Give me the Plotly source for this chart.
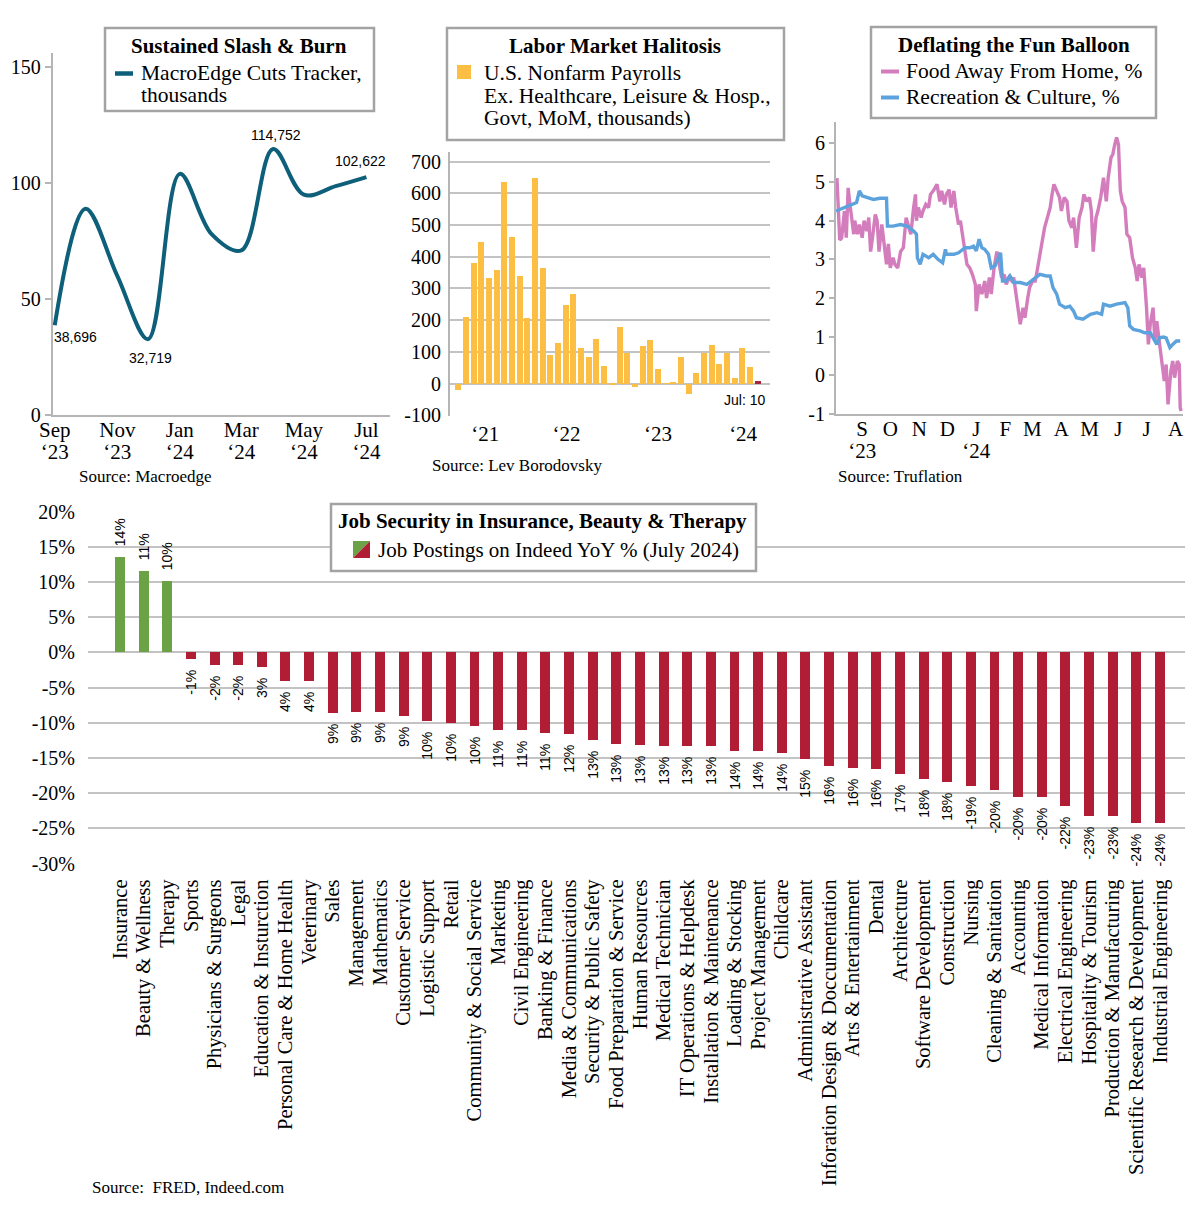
import plotly.graph_objects as go

# the page body adds an 8px margin, so the figure is sized to the visible area
OFF = 8
W, H = 1200 - OFF, 1225 - OFF
SERIF = "Liberation Serif"
SANS = "Liberation Sans"

# ------------------------------------------------------------------ data
# Panel 1: MacroEdge cuts tracker (thousands)
cuts_months = ["2023-09-01", "2023-10-01", "2023-11-01", "2023-12-01", "2024-01-01",
               "2024-02-01", "2024-03-01", "2024-04-01", "2024-05-01", "2024-06-01",
               "2024-07-01"]
cuts_values = [38.696, 89, 60, 32.719, 104, 78, 71, 114.752, 95, 98.7, 102.622]
cuts_labelled = [0, 3, 7, 10]
cuts_tick_months = ["2023-09-01", "2023-11-01", "2024-01-01", "2024-03-01", "2024-05-01", "2024-07-01"]
cuts_tick_month_text = ["Sep", "Nov", "Jan", "Mar", "May", "Jul"]
cuts_tick_year_text = ["‘23", "‘23", "‘24", "‘24", "‘24", "‘24"]
cuts_yticks = [0, 50, 100, 150]

# Panel 2: payrolls ex healthcare, leisure & hosp., govt (MoM, thousands)
payroll_values = [-20, 210, 381, 448, 333, 358, 638, 463, 341, 207, 650, 366,
                  92, 129, 250, 284, 112, 86, 141, 58, -3, 181, 96, -10,
                  121, 137, 47, 2, 5, 86, -33, 34, 99, 122, 64, 96, 18, 112, 55, 10]
payroll_tick_pos = [3.5, 14.1, 26.0, 37.1]
payroll_tick_text = ["‘21", "‘22", "‘23", "‘24"]
payroll_yticks = [-100, 0, 100, 200, 300, 400, 500, 600, 700]

# Panel 3: Truflation
food_dates = ["2023-08-05", "2023-08-08", "2023-08-10", "2023-08-13", "2023-08-15", "2023-08-17",
              "2023-08-19", "2023-08-21", "2023-08-23", "2023-08-24", "2023-08-27", "2023-08-29",
              "2023-09-01", "2023-09-03", "2023-09-06", "2023-09-08", "2023-09-10", "2023-09-12",
              "2023-09-15", "2023-09-17", "2023-09-19", "2023-09-22", "2023-09-24", "2023-09-27",
              "2023-09-29", "2023-10-01", "2023-10-04", "2023-10-06", "2023-10-09", "2023-10-12",
              "2023-10-15", "2023-10-18", "2023-10-20", "2023-10-23", "2023-10-26", "2023-10-28",
              "2023-10-29", "2023-10-31", "2023-11-03", "2023-11-05", "2023-11-08", "2023-11-11",
              "2023-11-13", "2023-11-16", "2023-11-20", "2023-11-23", "2023-11-25", "2023-11-28",
              "2023-11-30", "2023-12-03", "2023-12-05", "2023-12-08", "2023-12-10", "2023-12-13",
              "2023-12-15", "2023-12-18", "2023-12-20", "2023-12-22", "2023-12-25", "2023-12-28",
              "2023-12-31", "2024-01-01", "2024-01-04", "2024-01-07", "2024-01-10", "2024-01-12",
              "2024-01-15", "2024-01-17", "2024-01-20", "2024-01-23", "2024-01-25", "2024-01-28",
              "2024-01-31", "2024-02-02", "2024-02-05", "2024-02-08", "2024-02-10", "2024-02-13",
              "2024-02-16", "2024-02-17", "2024-02-20", "2024-02-22", "2024-02-25", "2024-02-27",
              "2024-03-01", "2024-03-04", "2024-03-06", "2024-03-09", "2024-03-12", "2024-03-14",
              "2024-03-17", "2024-03-20", "2024-03-22", "2024-03-24", "2024-03-27", "2024-03-30",
              "2024-04-01", "2024-04-04", "2024-04-07", "2024-04-09", "2024-04-12", "2024-04-14",
              "2024-04-17", "2024-04-20", "2024-04-23", "2024-04-25", "2024-04-28", "2024-05-01",
              "2024-05-03", "2024-05-05", "2024-05-08", "2024-05-10", "2024-05-13", "2024-05-16",
              "2024-05-19", "2024-05-21", "2024-05-24", "2024-05-26", "2024-05-28", "2024-05-30",
              "2024-06-01", "2024-06-03", "2024-06-05", "2024-06-08", "2024-06-10", "2024-06-13",
              "2024-06-16", "2024-06-19", "2024-06-21", "2024-06-23", "2024-06-26", "2024-06-28",
              "2024-07-01", "2024-07-03", "2024-07-05", "2024-07-08", "2024-07-10", "2024-07-12",
              "2024-07-15", "2024-07-17", "2024-07-20", "2024-07-22", "2024-07-24", "2024-07-27",
              "2024-07-29", "2024-07-31", "2024-08-03", "2024-08-05", "2024-08-06", "2024-08-07"]
food_values = [5.1, 3.5, 3.55, 4.25, 3.56, 4.85, 4.4, 4.0, 3.65, 4.0, 3.65, 3.9,
               3.56, 4.0, 3.73, 4.08, 3.2, 3.56, 4.16, 4.0, 3.2, 3.9, 3.4, 2.87,
               3.4, 2.78, 3.04, 2.87, 2.78, 3.2, 3.3, 4.08, 3.9, 3.65, 4.34, 4.68,
               4.0, 4.34, 4.08, 4.25, 4.42, 4.34, 4.68, 4.77, 4.94, 4.5, 4.77, 4.42,
               4.68, 4.8, 4.34, 4.77, 4.34, 3.9, 4.0, 3.47, 3.13, 2.87, 2.78, 2.6,
               2.35, 1.66, 2.35, 2.1, 2.44, 2.0, 2.53, 2.1, 2.78, 3.2, 2.96, 2.53,
               2.6, 2.35, 2.53, 2.44, 2.53, 2.0, 1.49, 1.32, 1.75, 1.49, 2.0, 2.27,
               2.44, 2.44, 2.7, 3.13, 3.56, 3.82, 4.08, 4.34, 4.68, 4.94, 4.77, 4.6,
               4.25, 4.6, 4.5, 4.0, 3.82, 4.08, 3.3, 4.08, 4.34, 4.68, 4.5, 4.6,
               4.25, 3.2, 4.08, 4.25, 4.6, 5.11, 4.5, 5.11, 5.63, 5.72, 5.97, 6.15,
               5.97, 4.77, 4.5, 4.34, 3.65, 3.56, 3.04, 2.78, 2.44, 2.87, 2.53, 2.78,
               1.75, 0.8, 1.32, 1.75, 0.89, 1.4, 0.8, 0.46, -0.15, 0.28, -0.75, 0.11,
               0.37, -0.06, 0.37, 0.28, -0.84, -0.92]
rec_dates = ["2023-08-04", "2023-08-08", "2023-08-16", "2023-08-26", "2023-08-29", "2023-09-01",
             "2023-09-06", "2023-09-13", "2023-09-20", "2023-09-27", "2023-09-28", "2023-10-04",
             "2023-10-12", "2023-10-19", "2023-10-26", "2023-10-29", "2023-10-30", "2023-11-02",
             "2023-11-05", "2023-11-11", "2023-11-16", "2023-11-21", "2023-11-26", "2023-11-29",
             "2023-11-30", "2023-12-08", "2023-12-13", "2023-12-16", "2023-12-20", "2023-12-25",
             "2023-12-29", "2024-01-01", "2024-01-04", "2024-01-07", "2024-01-10", "2024-01-14",
             "2024-01-17", "2024-01-21", "2024-01-25", "2024-01-27", "2024-01-29", "2024-02-02",
             "2024-02-06", "2024-02-10", "2024-02-17", "2024-02-24", "2024-03-02", "2024-03-09",
             "2024-03-16", "2024-03-20", "2024-03-23", "2024-03-27", "2024-03-30", "2024-04-05",
             "2024-04-10", "2024-04-14", "2024-04-17", "2024-04-24", "2024-05-02", "2024-05-09",
             "2024-05-14", "2024-05-16", "2024-05-23", "2024-05-30", "2024-06-08", "2024-06-11",
             "2024-06-13", "2024-06-17", "2024-06-24", "2024-06-29", "2024-07-05", "2024-07-08",
             "2024-07-12", "2024-07-15", "2024-07-19", "2024-07-22", "2024-07-26", "2024-07-29",
             "2024-08-02", "2024-08-06"]
rec_values = [4.25, 4.29, 4.38, 4.47, 4.77, 4.64, 4.6, 4.55, 4.58, 4.58, 3.86, 3.86,
              3.9, 3.86, 3.73, 3.65, 3.04, 2.87, 3.13, 3.04, 3.13, 3.0, 2.91, 3.26,
              3.13, 3.13, 3.17, 3.22, 3.3, 3.3, 3.34, 3.22, 3.52, 3.3, 3.26, 3.13,
              2.78, 2.83, 3.09, 3.17, 2.44, 2.44, 2.57, 2.4, 2.4, 2.35, 2.48, 2.61,
              2.57, 2.57, 2.27, 2.1, 1.84, 1.75, 1.79, 1.66, 1.49, 1.45, 1.58, 1.62,
              1.58, 1.84, 1.79, 1.84, 1.88, 1.75, 1.28, 1.19, 1.15, 1.1, 1.1, 0.97,
              0.8, 0.97, 0.99, 0.97, 0.72, 0.8, 0.89, 0.89]
truf_tick_months = ["2023-09-01", "2023-10-01", "2023-11-01", "2023-12-01", "2024-01-01", "2024-02-01",
                    "2024-03-01", "2024-04-01", "2024-05-01", "2024-06-01", "2024-07-01", "2024-08-01"]
truf_tick_month_text = ["S", "O", "N", "D", "J", "F", "M", "A", "M", "J", "J", "A"]
truf_year_months = ["2023-09-01", "2024-01-01"]
truf_year_text = ["‘23", "‘24"]
truf_yticks = [-1, 0, 1, 2, 3, 4, 5, 6]

# Panel 4: Indeed job postings YoY %
job_categories = ["Insurance", "Beauty & Wellness", "Therapy", "Sports", "Physicians & Surgeons",
                  "Legal", "Education & Insturction", "Personal Care & Home Health", "Veterinary",
                  "Sales", "Management", "Mathematics", "Customer Service", "Logistic Support",
                  "Retail", "Community & Social Service", "Marketing", "Civil Engineering",
                  "Banking & Finance", "Media & Communications", "Security & Public Safety",
                  "Food Preparation & Service", "Human Resources", "Medical Technician",
                  "IT Operations & Helpdesk", "Installation & Maintenance", "Loading & Stocking",
                  "Project Management", "Childcare", "Administrative Assistant",
                  "Inforation Design & Doccumentation", "Arts & Entertainment", "Dental",
                  "Architecture", "Software Development", "Construction", "Nursing",
                  "Cleaning & Sanitation", "Accounting", "Medical Information",
                  "Electrical Engineering", "Hospitality & Tourism", "Production & Manufacturing",
                  "Scientific Research & Development", "Industrial Engineering"]
job_values = [13.6, 11.6, 10.1, -0.9, -1.8, -1.8, -2.0, -4.0, -4.0, -8.6, -8.5, -8.5, -9.0,
              -9.7, -10.0, -10.5, -11.0, -11.0, -11.4, -11.6, -12.5, -13.0, -13.2, -13.3,
              -13.3, -13.3, -14.0, -14.0, -14.3, -15.2, -16.2, -16.4, -16.5, -17.2, -18.0,
              -18.4, -19.0, -19.6, -20.5, -20.5, -21.8, -23.3, -23.3, -24.3, -24.3]
job_labels = ["14%", "11%", "10%", "-1%", "-2%", "-2%", "3%", "4%", "4%", "9%", "9%", "9%", "9%",
              "10%", "10%", "10%", "11%", "11%", "11%", "12%", "13%", "13%", "13%", "13%",
              "13%", "13%", "14%", "14%", "14%", "15%", "16%", "16%", "16%", "17%", "18%",
              "18%", "-19%", "-20%", "-20%", "-20%", "-22%", "-23%", "-23%", "-24%", "-24%"]
job_yticks = [-30, -25, -20, -15, -10, -5, 0, 5, 10, 15, 20]

# ------------------------------------------------------------------ style
TEAL = "#0E5F79"
YELLOW = "#FDBE44"
DARKRED = "#A3283E"
PINK = "#D47DBD"
BLUE = "#5CA3DD"
GREEN = "#6BA245"
RED = "#B01D34"
GRID = "#C3C3C3"
AXIS = "#B5B5B5"
BOX = "#A3A3A3"
CLEAR = "rgba(0,0,0,0)"


def X(px):
    return (px - OFF) / W


def Y(py):
    return 1 - (py - OFF) / H


fig = go.Figure()

# panel 1
fig.add_trace(go.Scatter(x=cuts_months, y=cuts_values, mode="lines",
                         line=dict(color=TEAL, width=4, shape="spline", smoothing=1.0),
                         xaxis="x", yaxis="y", showlegend=False, hoverinfo="skip"))
# invisible companion so the year-row axis is built
fig.add_trace(go.Scatter(x=cuts_months, y=cuts_values, mode="lines", opacity=0,
                         line=dict(width=0), xaxis="x5", yaxis="y", showlegend=False, hoverinfo="skip"))
# panel 2
fig.add_trace(go.Bar(x=list(range(len(payroll_values))), y=payroll_values,
                     marker=dict(color=[YELLOW] * (len(payroll_values) - 1) + [DARKRED], line=dict(width=0)),
                     width=0.78, xaxis="x2", yaxis="y2", showlegend=False, hoverinfo="skip"))
# panel 3
fig.add_trace(go.Scatter(x=food_dates, y=food_values, mode="lines", line=dict(color=PINK, width=3.4),
                         xaxis="x3", yaxis="y3", showlegend=False, hoverinfo="skip"))
fig.add_trace(go.Scatter(x=rec_dates, y=rec_values, mode="lines", line=dict(color=BLUE, width=3.4),
                         xaxis="x3", yaxis="y3", showlegend=False, hoverinfo="skip"))
fig.add_trace(go.Scatter(x=rec_dates, y=rec_values, mode="lines", opacity=0, line=dict(width=0),
                         xaxis="x6", yaxis="y3", showlegend=False, hoverinfo="skip"))
# panel 4
NB = "\u00a0"
job_text = [(NB * 2 + t) if v > 0 else (t + NB * 2) for t, v in zip(job_labels, job_values)]
fig.add_trace(go.Bar(x=job_categories, y=job_values,
                     marker=dict(color=[GREEN if v > 0 else RED for v in job_values], line=dict(width=0)),
                     width=0.42, text=job_text, textposition="outside", textangle=-90,
                     textfont=dict(family=SANS, size=14, color="black"), constraintext="none",
                     cliponaxis=False, xaxis="x4", yaxis="y4", showlegend=False, hoverinfo="skip"))

serif20 = dict(family=SERIF, size=20, color="black")
serif21 = dict(family=SERIF, size=21, color="black")

cuts_range = ["2023-08-30", "2024-07-24"]
truf_range = ["2023-08-04", "2024-08-09"]
MONTH_STANDOFF = -5
YEAR_STANDOFF = 22

fig.update_layout(
    width=W, height=H, autosize=False,
    margin=dict(l=0, r=0, t=0, b=0, autoexpand=False),
    paper_bgcolor="white", plot_bgcolor="white",
    hovermode=False, showlegend=False, bargap=0,
    xaxis=dict(domain=[X(52.7), X(390)], anchor="y", type="date", automargin=False,
               range=cuts_range,
               tickmode="array", tickvals=cuts_tick_months, ticktext=cuts_tick_month_text,
               showline=True, linecolor=AXIS, linewidth=2, showgrid=False, zeroline=False,
               ticks="", ticklabelstandoff=MONTH_STANDOFF, tickfont=serif21),
    xaxis5=dict(overlaying="x", anchor="y", side="bottom", type="date", automargin=False,
                range=cuts_range,
                tickmode="array", tickvals=cuts_tick_months, ticktext=cuts_tick_year_text,
                showline=False, showgrid=False, zeroline=False,
                ticks="", ticklabelstandoff=YEAR_STANDOFF, tickfont=serif21),
    yaxis=dict(domain=[Y(415), Y(53.3)], anchor="x", range=[0, 156], automargin=False,
               tickmode="array", tickvals=cuts_yticks, ticktext=[str(v) for v in cuts_yticks],
               showline=True, linecolor=AXIS, linewidth=2, showgrid=False, zeroline=False,
               ticks="outside", ticklen=6, tickwidth=2, tickcolor=AXIS, tickfont=serif20),
    xaxis2=dict(domain=[X(450), X(770)], anchor="y2", range=[-1.08, 40.6], automargin=False,
                tickmode="array", tickvals=payroll_tick_pos, ticktext=payroll_tick_text,
                showline=False, showgrid=False, zeroline=False,
                ticks="", ticklabelstandoff=3, tickfont=serif21),
    yaxis2=dict(domain=[Y(415.7), Y(151.7)], anchor="x2", range=[-101, 731], automargin=False,
                tickmode="array", tickvals=payroll_yticks, ticktext=[str(v) for v in payroll_yticks],
                showline=True, linecolor=AXIS, linewidth=2, showgrid=True, gridcolor=GRID,
                gridwidth=2, zeroline=False, ticks="outside", ticklen=3,
                tickcolor=CLEAR, tickfont=serif20),
    xaxis3=dict(domain=[X(836), X(1183)], anchor="y3", type="date", automargin=False,
                range=truf_range,
                tickmode="array", tickvals=truf_tick_months, ticktext=truf_tick_month_text,
                showline=True, linecolor=AXIS, linewidth=2, showgrid=False, zeroline=False,
                ticks="", ticklabelstandoff=MONTH_STANDOFF, tickfont=serif21),
    xaxis6=dict(overlaying="x3", anchor="y3", side="bottom", type="date", automargin=False,
                range=truf_range,
                tickmode="array", tickvals=truf_year_months, ticktext=truf_year_text,
                showline=False, showgrid=False, zeroline=False,
                ticks="", ticklabelstandoff=YEAR_STANDOFF, tickfont=serif21),
    yaxis3=dict(domain=[Y(414), Y(121.7)], anchor="x3", range=[-1, 6.56], automargin=False,
                tickmode="array", tickvals=truf_yticks, ticktext=[str(v) for v in truf_yticks],
                showline=True, linecolor=AXIS, linewidth=2, showgrid=False, zeroline=False,
                ticks="outside", ticklen=5, tickwidth=2, tickcolor=AXIS, tickfont=serif20),
    xaxis4=dict(domain=[X(88), X(1185)], anchor="y4", type="category", range=[-1.354, 45.06],
                automargin=False,
                tickmode="array", tickvals=job_categories, ticktext=job_categories,
                tickangle=-90, showline=False, showgrid=False, zeroline=False,
                ticks="outside", ticklen=6, tickcolor=CLEAR,
                tickfont=dict(family=SERIF, size=20.5, color="black")),
    yaxis4=dict(domain=[Y(864.3), Y(511)], anchor="x4", range=[-30.1, 20.1], automargin=False,
                tickmode="array", tickvals=job_yticks, ticktext=[f"{v}%" for v in job_yticks],
                showline=False, showgrid=True, gridcolor=GRID, gridwidth=2,
                zeroline=False, ticks="outside", ticklen=8, tickcolor=CLEAR,
                tickfont=serif20),
)

shapes = []
annotations = []


def box(x0, y0, x1, y1):
    shapes.append(dict(type="rect", xref="paper", yref="paper", x0=X(x0), x1=X(x1), y0=Y(y1), y1=Y(y0),
                       line=dict(color=BOX, width=2.5), fillcolor="white", layer="above"))


def text(px, py, t, size=21.5, anchor="left", bold=False, family=SERIF):
    annotations.append(dict(xref="paper", yref="paper", x=X(px), y=Y(py), showarrow=False,
                            text=f"<b>{t}</b>" if bold else t, xanchor=anchor, yanchor="middle",
                            font=dict(family=family, size=size, color="black")))


# legend 1
box(105, 28, 374, 111)
text(239, 46, "Sustained Slash & Burn", size=21, anchor="center", bold=True)
shapes.append(dict(type="line", xref="paper", yref="paper", x0=X(115), x1=X(133), y0=Y(73.5), y1=Y(73.5),
                   line=dict(color=TEAL, width=4.5)))
text(139, 73, "MacroEdge Cuts Tracker,")
text(139, 95, "thousands")

# legend 2
box(447, 28, 784, 140)
text(615, 46, "Labor Market Halitosis", size=21, anchor="center", bold=True)
shapes.append(dict(type="rect", xref="paper", yref="paper", x0=X(457), x1=X(471), y0=Y(79), y1=Y(65),
                   line=dict(width=0), fillcolor=YELLOW))
text(482, 73, "U.S. Nonfarm Payrolls")
text(482, 96, "Ex. Healthcare, Leisure & Hosp.,")
text(482, 118, "Govt, MoM, thousands)")

# legend 3
box(871, 27, 1156, 118)
text(1014, 44.5, "Deflating the Fun Balloon", size=21, anchor="center", bold=True)
shapes.append(dict(type="line", xref="paper", yref="paper", x0=X(881), x1=X(899), y0=Y(71.5), y1=Y(71.5),
                   line=dict(color=PINK, width=4)))
text(904, 71, "Food Away From Home, %")
shapes.append(dict(type="line", xref="paper", yref="paper", x0=X(881), x1=X(899), y0=Y(97.5), y1=Y(97.5),
                   line=dict(color=BLUE, width=4)))
text(904, 97, "Recreation & Culture, %")

# legend 4
box(331, 504, 756, 571)
text(542, 521, "Job Security in Insurance, Beauty & Therapy", size=21, anchor="center", bold=True)
shapes.append(dict(type="path", xref="paper", yref="paper",
                   path=f"M {X(353)},{Y(541)} L {X(370)},{Y(541)} L {X(353)},{Y(558)} Z",
                   line=dict(width=0), fillcolor=GREEN))
shapes.append(dict(type="path", xref="paper", yref="paper",
                   path=f"M {X(370)},{Y(541)} L {X(370)},{Y(558)} L {X(353)},{Y(558)} Z",
                   line=dict(width=0), fillcolor=RED))
text(376, 550, "Job Postings on Indeed YoY % (July 2024)", size=21)

# sources
text(77, 476, "Source: Macroedge", size=17)
text(430, 465, "Source: Lev Borodovsky", size=17)
text(836, 476, "Source: Truflation", size=17)
text(90, 1187, "Source:\u00a0 FRED, Indeed.com", size=17)

# data labels panel 1
label_offsets = {0: dict(xanchor="left", xshift=-3, yshift=-12),
                 3: dict(xanchor="center", xshift=2, yshift=-19),
                 7: dict(xanchor="center", xshift=3, yshift=14),
                 10: dict(xanchor="center", xshift=-6, yshift=16)}
for i in cuts_labelled:
    off = label_offsets[i]
    annotations.append(dict(xref="x", yref="y", x=cuts_months[i], y=cuts_values[i], showarrow=False,
                            text=f"{cuts_values[i] * 1000:,.0f}", yanchor="middle",
                            font=dict(family=SANS, size=14, color="black"), **off))

# last payroll value
annotations.append(dict(xref="x2 domain", yref="y2 domain", x=0.99, y=0.06, showarrow=False,
                        text=f"Jul: {payroll_values[-1]}", xanchor="right", yanchor="middle",
                        font=dict(family=SANS, size=14, color="black")))

fig.update_layout(shapes=shapes, annotations=annotations)
fig.write_html("out.html")
